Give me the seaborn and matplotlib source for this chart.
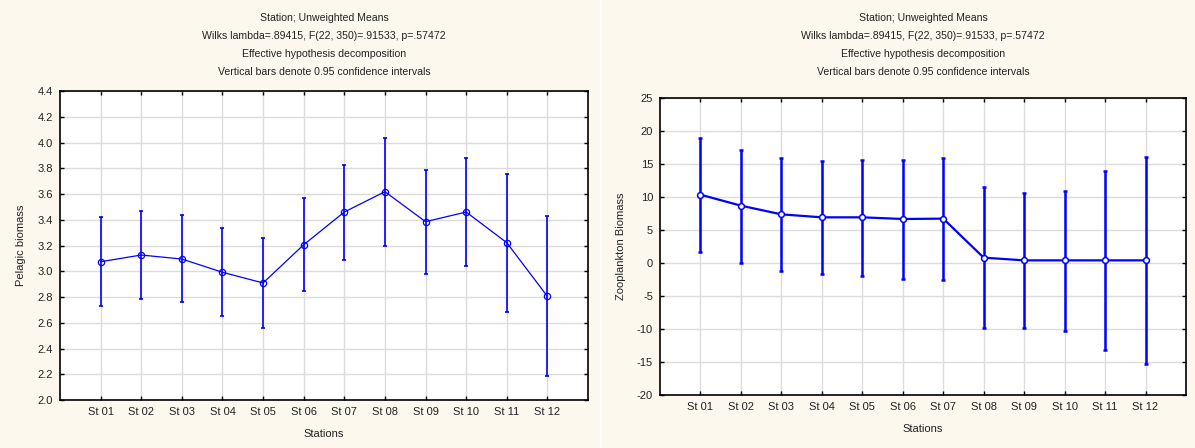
import numpy as np
import pandas as pd
import matplotlib
matplotlib.use("Agg")
import matplotlib.pyplot as plt
import seaborn as sns

stations = ["St 01", "St 02", "St 03", "St 04", "St 05", "St 06",
            "St 07", "St 08", "St 09", "St 10", "St 11", "St 12"]

pelagic_mean = [3.074, 3.126, 3.095, 2.992, 2.909, 3.206, 3.460, 3.618, 3.385, 3.460, 3.222, 2.805]
pelagic_upper = [3.419, 3.468, 3.437, 3.333, 3.258, 3.566, 3.828, 4.038, 3.789, 3.882, 3.758, 3.429]
pelagic_lower = [2.733, 2.784, 2.759, 2.652, 2.559, 2.847, 3.090, 3.196, 2.976, 3.038, 2.683, 2.189]

zoo_mean = [10.35, 8.69, 7.37, 6.92, 6.92, 6.67, 6.72, 0.81, 0.40, 0.40, 0.40, 0.40]
zoo_upper = [18.94, 17.17, 15.96, 15.51, 15.61, 15.66, 15.96, 11.46, 10.56, 10.96, 13.94, 16.06]
zoo_lower = [1.72, 0.05, -1.16, -1.72, -1.97, -2.42, -2.63, -9.80, -9.90, -10.35, -13.23, -15.30]

title_lines = ["Station; Unweighted Means",
               "Wilks lambda=.89415, F(22, 350)=.91533, p=.57472",
               "Effective hypothesis decomposition",
               "Vertical bars denote 0.95 confidence intervals"]

pel_yticks = [2.0, 2.2, 2.4, 2.6, 2.8, 3.0, 3.2, 3.4, 3.6, 3.8, 4.0, 4.2, 4.4]
zoo_yticks = [-20, -15, -10, -5, 0, 5, 10, 15, 20, 25]

sns.set_theme(style="white")
plt.rcParams['font.family'] = ['Liberation Sans', 'DejaVu Sans']

BG = "#fdf8ee"
BLUE = "#0000ff"
FS = 8
TFS = 7.6

fig = plt.figure(figsize=(11.95, 4.48), dpi=100, facecolor=BG)

ax1 = fig.add_axes([60/1195, 48/448, 528/1195, 309/448])
ax2 = fig.add_axes([660/1195, 53/448, 526/1195, 297/448])

# white separator between panels
fig.add_artist(plt.Line2D([601/1195, 601/1195], [0, 1], color="white", lw=1.2,
                          transform=fig.transFigure))

x = np.arange(1, 13)

def draw(ax, mean, lo, hi, yticks, ylabel, lw, ms, mew, elw, mfc):
    df = pd.DataFrame({"x": x, "y": mean})
    ax.set_facecolor("white")
    ax.grid(True, color="#dcdcdc", lw=1.0)
    ax.set_axisbelow(True)
    mean_a = np.array(mean)
    yerr = np.vstack([mean_a - np.array(lo), np.array(hi) - mean_a])
    ax.errorbar(x, mean_a, yerr=yerr, fmt="none", ecolor=BLUE, elinewidth=elw,
                capsize=1.5, capthick=elw, zorder=3)
    sns.lineplot(data=df, x="x", y="y", ax=ax, color=BLUE, lw=lw, marker="o",
                 markersize=ms, markerfacecolor=mfc, markeredgecolor=BLUE,
                 markeredgewidth=mew, zorder=4)
    ax.set_xlim(0, 13)
    ax.set_ylim(yticks[0], yticks[-1])
    ax.set_xticks(x)
    ax.set_xticklabels(stations, fontsize=FS, color="#222222")
    ax.set_yticks(yticks)
    ax.set_yticklabels([f"{v:.1f}" if isinstance(v, float) else str(v) for v in yticks],
                       fontsize=FS, color="#222222")
    ax.tick_params(direction="in", length=3, width=1, top=True, right=True,
                   left=True, bottom=True, pad=5, color="black")
    ax.set_xlabel("Stations", fontsize=FS, color="#222222", labelpad=9)
    ax.set_ylabel(ylabel, fontsize=FS, color="#222222", labelpad=8)
    for s in ax.spines.values():
        s.set_color("black")
        s.set_linewidth(1.2)

draw(ax1, pelagic_mean, pelagic_lower, pelagic_upper, pel_yticks, "Pelagic biomass",
     0.9, 4.5, 0.9, 1.2, "none")
draw(ax2, zoo_mean, zoo_lower, zoo_upper, zoo_yticks, "Zooplankton Biomass",
     1.6, 4.2, 1.1, 1.8, "white")

for cx in [(60 + 588) / 2, (660 + 1186) / 2]:
    for line, yy in zip(title_lines, [18, 36, 54, 72]):
        fig.text(cx / 1195, 1 - yy / 448, line, ha="center", va="center",
                 fontsize=TFS, color="#222222")

fig.savefig("out.png", dpi=100, facecolor=BG)
